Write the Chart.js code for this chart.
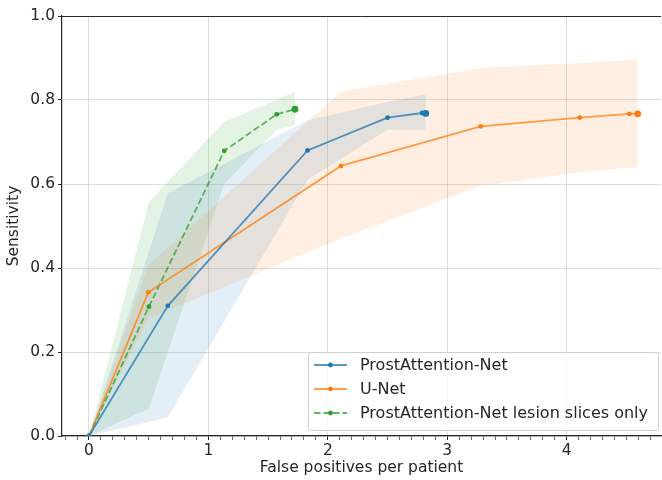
<!DOCTYPE html>
<html>
<head>
<meta charset="utf-8">
<script src="https://cdn.jsdelivr.net/npm/chart.js@4.4.1/dist/chart.umd.min.js"></script>
<style>
  html, body { margin: 0; padding: 0; background: #fff; }
  #wrap { width: 662px; height: 480px; }
</style>
</head>
<body>
<div id="wrap"><canvas id="froc" width="662" height="480"></canvas></div>
<script>
// FROC curves with shaded confidence bands.

const xLabel = "False positives per patient";
const yLabel = "Sensitivity";
const xMin = -0.226, xMax = 4.79;
const yTicks = [0, 0.2, 0.4, 0.6, 0.8, 1.0];

const seriesNames = ["ProstAttention-Net", "U-Net", "ProstAttention-Net lesion slices only"];

// ProstAttention-Net
const paX     = [0, 0.66, 1.83, 2.50, 2.79, 2.82];
const paY     = [0, 0.310, 0.680, 0.758, 0.769, 0.768];
const paUpper = [0, 0.578, 0.752, 0.795, 0.812, 0.812];
const paLower = [0, 0.044, 0.610, 0.729, 0.729, 0.729];

// U-Net
const unetX     = [0, 0.497, 2.11, 3.28, 4.11, 4.525, 4.595];
const unetY     = [0, 0.342, 0.643, 0.737, 0.758, 0.767, 0.767];
const unetUpper = [0, 0.407, 0.820, 0.876, 0.888, 0.895, 0.897];
const unetLower = [0, 0.280, 0.470, 0.595, 0.628, 0.638, 0.640];

// ProstAttention-Net, lesion slices only
const lesX     = [0, 0.502, 1.133, 1.572, 1.725];
const lesY     = [0, 0.308, 0.679, 0.766, 0.778];
const lesUpper = [0, 0.558, 0.748, 0.800, 0.820];
const lesLower = [0, 0.066, 0.600, 0.729, 0.740];

const FONT = "'DejaVu Sans', sans-serif";
const INK = "#262626";
const GRID = "rgba(176,176,176,0.42)";

const pts = (xs, ys) => xs.map((x, i) => ({ x, y: ys[i] }));

function curve(label, xs, ys, rgb, dash) {
  const last = xs.length - 1;
  return {
    label, data: pts(xs, ys), fill: false, tension: 0,
    borderColor: `rgba(${rgb},0.75)`, borderWidth: 1.8, borderDash: dash || [],
    pointBackgroundColor: `rgb(${rgb})`, pointBorderWidth: 0,
    pointRadius: (c) => (c.dataIndex === last ? 3.4 : 2.4),
  };
}

function band(xs, up, lo, rgb) {
  return [
    { data: pts(xs, up), borderWidth: 0, pointRadius: 0, fill: false, tension: 0 },
    { data: pts(xs, lo), borderWidth: 0, pointRadius: 0, fill: "-1", tension: 0,
      backgroundColor: `rgba(${rgb},0.12)` },
  ];
}

const BLUE = "31,119,180", ORANGE = "255,127,14", GREEN = "44,160,44";

const curves = [
  curve(seriesNames[0], paX, paY, BLUE),
  curve(seriesNames[1], unetX, unetY, ORANGE),
  curve(seriesNames[2], lesX, lesY, GREEN, [6.5, 3]),
];

const datasets = [
  ...band(paX, paUpper, paLower, BLUE),
  ...band(unetX, unetUpper, unetLower, ORANGE),
  ...band(lesX, lesUpper, lesLower, GREEN),
  ...curves,
];

// minor ticks every 0.1 on x, labels only on integers
const xTickVals = [];
for (let i = -2; i <= 47; i++) xTickVals.push(i / 10);
const isMajor = (v) => Math.abs(v - Math.round(v)) < 1e-9;

// top spine + legend box drawn inside the plot, matplotlib style
const frameAndLegend = {
  id: "frameAndLegend",
  afterDraw(chart) {
    const { ctx, chartArea: a } = chart;
    ctx.save();
    ctx.strokeStyle = INK;
    ctx.lineWidth = 1;
    ctx.beginPath();
    ctx.moveTo(a.left, a.top + 0.5);
    ctx.lineTo(a.right, a.top + 0.5);
    ctx.stroke();

    ctx.font = `16px ${FONT}`;
    const tw = Math.max(...curves.map((c) => ctx.measureText(c.label).width));
    const padL = 6, lineW = 33, gap = 13, padR = 10, rowH = 24;
    const w = padL + lineW + gap + tw + padR;
    const h = 78;
    const x0 = a.right - 3 - w, y0 = a.bottom - 6 - h;
    ctx.beginPath();
    ctx.roundRect(x0 + 0.5, y0 + 0.5, w, h, 3);
    ctx.fillStyle = "rgba(255,255,255,0.8)";
    ctx.fill();
    ctx.strokeStyle = "#d0d0d0";
    ctx.stroke();

    curves.forEach((c, i) => {
      const yy = y0 + 13 + i * rowH;
      const lx = x0 + padL;
      ctx.strokeStyle = c.borderColor;
      ctx.lineWidth = c.borderWidth;
      ctx.setLineDash(c.borderDash);
      ctx.beginPath();
      ctx.moveTo(lx, yy);
      ctx.lineTo(lx + lineW, yy);
      ctx.stroke();
      ctx.setLineDash([]);
      ctx.fillStyle = c.pointBackgroundColor;
      ctx.beginPath();
      ctx.arc(lx + lineW / 2, yy, 2.4, 0, Math.PI * 2);
      ctx.fill();
      ctx.fillStyle = INK;
      ctx.textBaseline = "middle";
      ctx.fillText(c.label, lx + lineW + gap, yy + 1);
    });
    ctx.restore();
  },
};

new Chart(document.getElementById("froc"), {
  type: "line",
  data: { datasets },
  options: {
    responsive: false,
    animation: false,
    devicePixelRatio: 1,
    layout: { autoPadding: false, padding: { top: 16, right: 1, left: 0, bottom: 0 } },
    plugins: {
      legend: { display: false },
      tooltip: { enabled: false },
      filler: { drawTime: "beforeDatasetsDraw" },
    },
    scales: {
      x: {
        type: "linear", min: xMin, max: xMax,
        afterBuildTicks: (s) => { s.ticks = xTickVals.map((value) => ({ value })); },
        afterFit: (s) => { s.height = 44; s.paddingLeft = 0; s.paddingRight = 0; },
        grid: {
          color: (c) => (c.tick && isMajor(c.tick.value) ? GRID : "rgba(0,0,0,0)"),
          tickColor: INK, tickLength: 4,
          tickWidth: (c) => (c.tick && isMajor(c.tick.value) ? 1 : 0.7),
        },
        border: { color: INK, width: 1.2 },
        ticks: {
          autoSkip: false, maxRotation: 0, padding: 2, color: INK,
          font: { family: FONT, size: 15.5 },
          callback: (v) => (isMajor(v) ? String(Math.round(v)) : ""),
        },
        title: { display: true, text: xLabel, color: INK, padding: 3,
          font: { family: FONT, size: 15.5 } },
      },
      y: {
        min: 0, max: 1,
        afterBuildTicks: (s) => { s.ticks = yTicks.map((value) => ({ value })); },
        afterFit: (s) => { s.width = 62; },
        grid: { color: GRID, tickColor: INK, tickLength: 4 },
        border: { color: INK, width: 1.2 },
        ticks: { padding: 3, color: INK, font: { family: FONT, size: 15.5 },
          callback: (v) => v.toFixed(1) },
        title: { display: true, text: yLabel, color: INK, padding: { top: 5, bottom: 0 },
          font: { family: FONT, size: 15.5 } },
      },
    },
  },
  plugins: [frameAndLegend],
});
</script>
</body>
</html>
